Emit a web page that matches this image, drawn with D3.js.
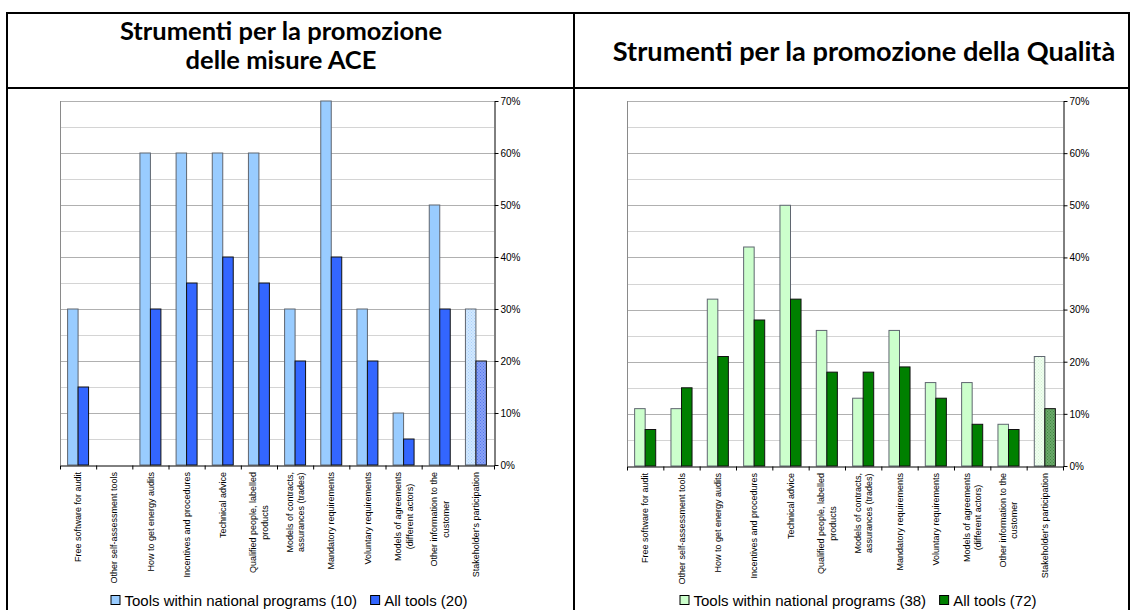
<!DOCTYPE html>
<html>
<head>
<meta charset="utf-8">
<script src="https://cdn.jsdelivr.net/npm/d3@7"></script>
<style>
  html, body { margin: 0; padding: 0; background: #fff; }
  svg { display: block; }
</style>
</head>
<body>
<svg id="chart" width="1132" height="610"></svg>
<script>
// ---------- DATA ----------
const categories = [
  ["Free software for audit"],
  ["Other self-assessment tools"],
  ["How to get energy audits"],
  ["Incentives and procedures"],
  ["Technical advice"],
  ["Qualified people, labelled", "products"],
  ["Models of contracts,", "assurances (trades)"],
  ["Mandatory requirements"],
  ["Voluntary requirements"],
  ["Models of agreements", "(different actors)"],
  ["Other information to the", "customer"],
  ["Stakeholder's participation"]
];
const aceNational = [30, 0, 60, 60, 60, 60, 30, 70, 30, 10, 50, 30];
const aceAll      = [15, 0, 30, 35, 40, 35, 20, 40, 20, 5, 30, 20];
const qualNational = [11, 11, 32, 42, 50, 26, 13, 26, 16, 16, 8, 21];
const qualAll      = [7, 15, 21, 28, 32, 18, 18, 19, 13, 8, 7, 11];
const yTicks = [0, 10, 20, 30, 40, 50, 60, 70];
const yMinorTicks = [5, 15, 25, 35, 45, 55, 65];
const leftTitle = ["Strumenti per la promozione", "delle misure ACE"];
const rightTitle = ["Strumenti per la promozione della Qualità"];
const leftLegend = ["Tools within national programs (10)", "All tools (20)"];
const rightLegend = ["Tools within national programs (38)", "All tools (72)"];

// ---------- SETUP ----------
const svg = d3.select("#chart");
const defs = svg.append("defs");

function makePattern(id, base, dot) {
  const p = defs.append("pattern").attr("id", id)
    .attr("patternUnits", "userSpaceOnUse").attr("width", 3).attr("height", 3);
  p.append("rect").attr("width", 3).attr("height", 3).attr("fill", base);
  p.append("rect").attr("x", 0).attr("y", 0).attr("width", 1).attr("height", 1).attr("fill", dot);
  p.append("rect").attr("x", 1.5).attr("y", 1.5).attr("width", 1).attr("height", 1).attr("fill", dot);
}
makePattern("hatchBlueLight", "#d2e8ff", "#a9d0fa");
makePattern("hatchBlueDark", "#8aa2f5", "#5477f0");
makePattern("hatchGreenLight", "#effeef", "#d6f2d6");
makePattern("hatchGreenDark", "#6aa86a", "#3f8a3f");

// ---------- TABLE FRAME ----------
const frame = svg.append("g").attr("stroke", "#000").attr("stroke-width", 2);
frame.append("line").attr("x1", 6).attr("x2", 1130).attr("y1", 13).attr("y2", 13);
frame.append("line").attr("x1", 6).attr("x2", 1130).attr("y1", 88).attr("y2", 88);
frame.append("line").attr("x1", 7).attr("x2", 7).attr("y1", 12).attr("y2", 610);
frame.append("line").attr("x1", 574).attr("x2", 574).attr("y1", 12).attr("y2", 610);
frame.append("line").attr("x1", 1129).attr("x2", 1129).attr("y1", 12).attr("y2", 610);

function drawTitle(lines, cx, baseY, lh, fs) {
  const t = svg.append("text")
    .attr("text-anchor", "middle")
    .attr("font-family", "Lato, 'Open Sans', sans-serif")
    .attr("font-weight", "bold")
    .attr("font-size", fs)
    .attr("fill", "#000");
  lines.forEach((l, i) => {
    t.append("tspan").attr("x", cx).attr("y", baseY + i * lh).text(l);
  });
}
drawTitle(leftTitle, 281, 40, 29, 25.5);
drawTitle(rightTitle, 864, 61, 29, 27.2);

// ---------- PANEL ----------
function drawPanel(cfg) {
  const g = svg.append("g");
  const x = d3.scaleBand().domain(d3.range(categories.length)).range([cfg.x0, cfg.x1]).padding(0);
  const y = d3.scaleLinear().domain([0, 70]).range([cfg.y0, cfg.yTop]);
  const bw = x.bandwidth() * 0.29;
  const last = categories.length - 1;

  // minor gridlines
  g.append("g").selectAll("line").data(yMinorTicks).join("line")
    .attr("x1", cfg.x0).attr("x2", cfg.x1)
    .attr("y1", d => Math.round(y(d)) + 0.5).attr("y2", d => Math.round(y(d)) + 0.5)
    .attr("stroke", "#d4d4d4").attr("stroke-width", 1);
  // major gridlines
  g.append("g").selectAll("line").data(yTicks.filter(d => d > 0)).join("line")
    .attr("x1", cfg.x0).attr("x2", cfg.x1)
    .attr("y1", d => Math.round(y(d)) + 0.5).attr("y2", d => Math.round(y(d)) + 0.5)
    .attr("stroke", "#b0b0b0").attr("stroke-width", 1.2);
  // plot area left border
  g.append("line").attr("x1", cfg.x0 + 0.5).attr("x2", cfg.x0 + 0.5)
    .attr("y1", y(70)).attr("y2", cfg.y0).attr("stroke", "#8a8a8a");

  const natData = cfg.national.map((v, i) => ({ v, i })).filter(d => d.v > 0);
  const allData = cfg.all.map((v, i) => ({ v, i })).filter(d => d.v > 0);

  // national bars
  g.append("g").selectAll("rect").data(natData).join("rect")
    .attr("x", d => x(d.i) + x.bandwidth() / 2 - bw)
    .attr("y", d => y(d.v))
    .attr("width", bw)
    .attr("height", d => cfg.y0 - y(d.v))
    .attr("fill", d => d.i === last ? `url(#${cfg.hatchLight})` : cfg.light)
    .attr("stroke", "#5f6670").attr("stroke-width", 1);
  // all-tools bars
  g.append("g").selectAll("rect").data(allData).join("rect")
    .attr("x", d => x(d.i) + x.bandwidth() / 2)
    .attr("y", d => y(d.v))
    .attr("width", bw)
    .attr("height", d => cfg.y0 - y(d.v))
    .attr("fill", d => d.i === last ? `url(#${cfg.hatchDark})` : cfg.dark)
    .attr("stroke", "#111").attr("stroke-width", 1);

  // right axis
  const ya = g.append("g").attr("transform", `translate(${cfg.x1 + 0.5},0)`)
    .call(d3.axisRight(y).tickValues(yTicks).tickFormat(d => d + "%").tickSize(4).tickSizeOuter(0));
  ya.select(".domain").attr("stroke", "#000");
  ya.selectAll(".tick line").attr("stroke", "#000");
  ya.selectAll("text").attr("font-family", "'Liberation Sans', Arial, sans-serif")
    .attr("font-size", 10).attr("fill", "#000").attr("x", 6).attr("dy", "0.34em");

  // bottom axis with ticks at category boundaries
  const xb = d3.scaleLinear().domain([0, categories.length]).range([cfg.x0, cfg.x1]);
  const xa = g.append("g").attr("transform", `translate(0,${cfg.y0 + 0.5})`)
    .call(d3.axisBottom(xb).tickValues(d3.range(categories.length + 1)).tickFormat("").tickSize(4).tickSizeOuter(0));
  xa.select(".domain").attr("stroke", "#000");
  xa.selectAll(".tick line").attr("stroke", "#000");

  // category labels (rotated, block top-aligned, lines centred)
  const font = "'Liberation Sans', Arial, sans-serif";
  categories.forEach((lines, i) => {
    const cx = x(i) + x.bandwidth() / 2;
    const lh = 11.5;
    const n = lines.length;
    const lens = lines.map(l => {
      const tmp = g.append("text").attr("font-family", font).attr("font-size", 9).text(l);
      const w = tmp.node().getComputedTextLength();
      tmp.remove();
      return w;
    });
    const maxLen = d3.max(lens);
    const top = cfg.y0 + 7;
    lines.forEach((l, k) => {
      const xx = cx + (k - (n - 1) / 2) * lh + 3.2;
      const yy = top + maxLen / 2;
      g.append("text")
        .attr("font-family", font)
        .attr("font-size", 9).attr("fill", "#000")
        .attr("text-anchor", "middle")
        .attr("transform", `translate(${xx},${yy}) rotate(-90)`)
        .text(l);
    });
  });

  // legend
  const lg = g.append("g");
  const fs = 15;
  const items = [
    { label: cfg.legend[0], fill: cfg.light },
    { label: cfg.legend[1], fill: cfg.dark }
  ];
  let cursor = 0;
  items.forEach((it, k) => {
    const sw = lg.append("rect").attr("width", 9).attr("height", 9)
      .attr("fill", it.fill).attr("stroke", "#000").attr("stroke-width", 1);
    const tx = lg.append("text").attr("font-family", font)
      .attr("font-size", fs).attr("fill", "#000").text(it.label);
    const w = tx.node().getComputedTextLength();
    sw.attr("x", cursor + 0.5).attr("y", -10.5);
    tx.attr("x", cursor + 14).attr("y", 0);
    cursor += 14 + w + (k === 0 ? 13 : 0);
  });
  lg.attr("transform", `translate(${cfg.legendCx - cursor / 2},${cfg.legendY})`);
}

drawPanel({
  x0: 60, x1: 494, yTop: 101, y0: 465,
  national: aceNational, all: aceAll,
  light: "#99ccff", dark: "#3366ff",
  hatchLight: "hatchBlueLight", hatchDark: "hatchBlueDark",
  legend: leftLegend, legendCx: 289, legendY: 606
});
drawPanel({
  x0: 627, x1: 1063, yTop: 101, y0: 466,
  national: qualNational, all: qualAll,
  light: "#ccffcc", dark: "#008000",
  hatchLight: "hatchGreenLight", hatchDark: "hatchGreenDark",
  legend: rightLegend, legendCx: 858, legendY: 606
});
</script>
</body>
</html>
